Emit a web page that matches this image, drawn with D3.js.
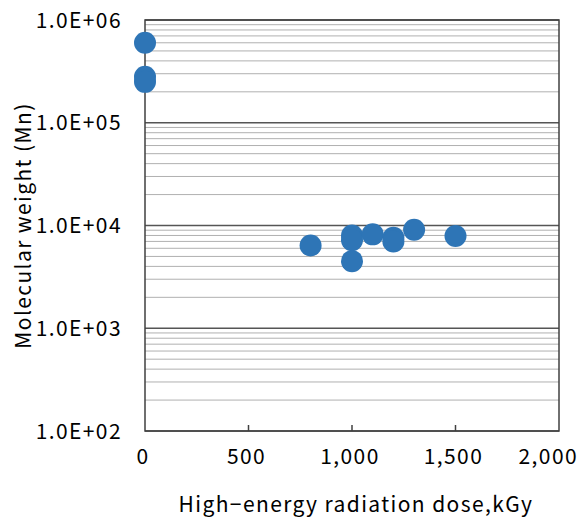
<html>
<head>
<meta charset="utf-8">
<script src="https://d3js.org/d3.v7.min.js"></script>
<style>
    body { margin: 0; background: white; }
    text { font-family: "Noto Sans CJK JP", "Noto Sans", sans-serif; fill: #000; letter-spacing: 1.4px; }
    .tick-label { font-size: 21px; }
    .title { font-size: 21px; }
</style>
</head>
<body>
<div id="chart"></div>
<script>
    // dose (kGy) and molecular weight (Mn)
    var dose = [0, 0, 0, 800, 1000, 1000, 1000, 1100, 1200, 1200, 1300, 1500];
    var mn = [600000, 280000, 250000, 6400, 8000, 7200, 4500, 8200, 7600, 7000, 9100, 7900];

    var xTicks = [0, 500, 1000, 1500, 2000];
    var yTicks = [1e2, 1e3, 1e4, 1e5, 1e6];

    var width = 584, height = 520;
    var margin = {top: 20, right: 25, bottom: 89, left: 145};

    var svg = d3.select("#chart").append("svg")
        .attr("width", width)
        .attr("height", height);

    var x = d3.scaleLinear()
        .domain([0, 2000])
        .range([margin.left, width - margin.right]);

    var y = d3.scaleLog()
        .domain([1e2, 1e6])
        .range([height - margin.bottom, margin.top]);

    // minor gridlines 2..9 in every decade
    var minor = [];
    yTicks.slice(0, -1).forEach(function (d) {
        for (var k = 2; k < 10; k++) minor.push(d * k);
    });

    svg.append("g").selectAll("line")
        .data(minor)
        .join("line")
        .attr("x1", x(0)).attr("x2", x(2000))
        .attr("y1", function (d) { return y(d); })
        .attr("y2", function (d) { return y(d); })
        .attr("stroke", "#b0b0b0")
        .attr("stroke-width", 1);

    svg.append("g").selectAll("line")
        .data(yTicks)
        .join("line")
        .attr("x1", x(0)).attr("x2", x(2000))
        .attr("y1", function (d) { return y(d); })
        .attr("y2", function (d) { return y(d); })
        .attr("stroke", "#555")
        .attr("stroke-width", 1.5);

    // plot box
    svg.append("rect")
        .attr("x", x(0)).attr("y", y(1e6))
        .attr("width", x(2000) - x(0))
        .attr("height", y(1e2) - y(1e6))
        .attr("fill", "none")
        .attr("stroke", "#404040")
        .attr("stroke-width", 1.5);

    // x ticks (inside)
    svg.append("g").selectAll("line")
        .data(xTicks.slice(1, -1))
        .join("line")
        .attr("x1", function (d) { return x(d); })
        .attr("x2", function (d) { return x(d); })
        .attr("y1", y(1e2)).attr("y2", y(1e2) - 6)
        .attr("stroke", "#404040")
        .attr("stroke-width", 1.5);

    var fmtX = d3.format(",");
    svg.append("g").selectAll("text")
        .data(xTicks)
        .join("text")
        .attr("class", "tick-label")
        .attr("x", function (d) { return d === 2000 ? 578 : x(d) - 2; })
        .attr("y", 464)
        .attr("text-anchor", function (d) { return d === 2000 ? "end" : "middle"; })
        .text(function (d) { return fmtX(d); });

    function fmtY(d) {
        var e = Math.round(Math.log10(d));
        return "1.0E+" + (e < 10 ? "0" + e : e);
    }

    svg.append("g").selectAll("text")
        .data(yTicks)
        .join("text")
        .attr("class", "tick-label")
        .attr("x", 122)
        .attr("y", function (d) { return y(d); })
        .attr("dy", "0.36em")
        .attr("text-anchor", "end")
        .text(fmtY);

    // points
    svg.append("g").selectAll("circle")
        .data(dose)
        .join("circle")
        .attr("cx", function (d) { return x(d); })
        .attr("cy", function (d, i) { return y(mn[i]); })
        .attr("r", 11)
        .attr("fill", "#2e75b6");

    // axis titles
    svg.append("text")
        .attr("class", "title")
        .attr("x", 356)
        .attr("y", 512)
        .attr("text-anchor", "middle")
        .text("High\u2212energy radiation dose,kGy");

    svg.append("text")
        .attr("class", "title")
        .attr("transform", "translate(31," + ((y(1e2) + y(1e6)) / 2) + ") rotate(-90)")
        .attr("text-anchor", "middle")
        .text("Molecular weight (Mn)");
</script>
</body>
</html>
